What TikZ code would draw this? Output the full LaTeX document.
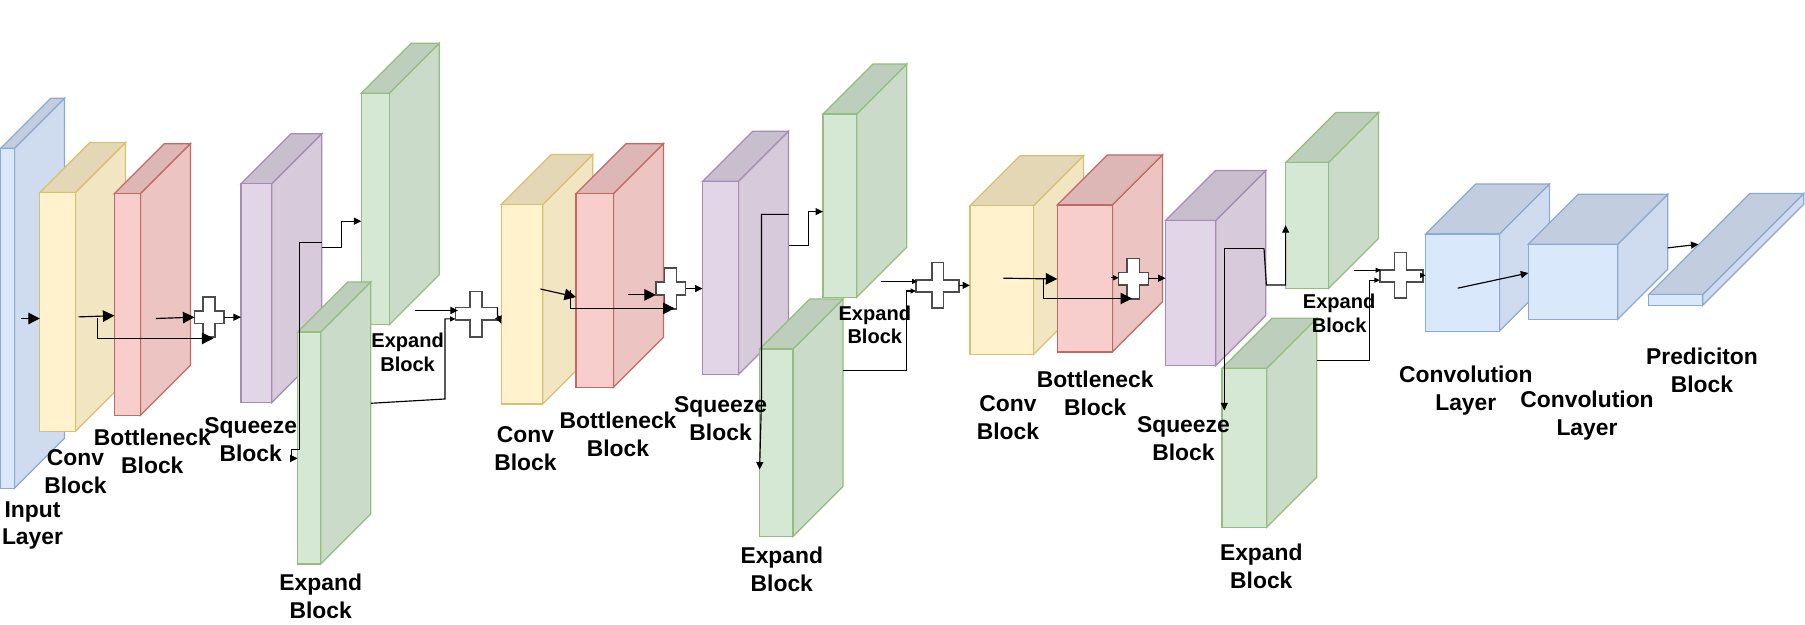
\documentclass[tikz,border=0pt]{standalone}
\usepackage{fontspec}
\setmainfont{Liberation Sans}
\usetikzlibrary{arrows.meta}
\definecolor{bluefill}{HTML}{DAE8FC}\definecolor{blueline}{HTML}{8EA8CF}
\definecolor{yellowfill}{HTML}{FFF2CC}\definecolor{yellowline}{HTML}{D9BF70}
\definecolor{redfill}{HTML}{F8CECC}\definecolor{redline}{HTML}{C06A66}
\definecolor{purplefill}{HTML}{E1D5E7}\definecolor{purpleline}{HTML}{A68BB3}
\definecolor{greenfill}{HTML}{D5E8D4}\definecolor{greenline}{HTML}{95BD7D}
\tikzset{
	cubeedge/.style={line width=0.35pt},
	plusline/.style={draw=black!70, fill=white, line width=0.45pt},
	bigarrow/.style={-{Triangle[length=1.15mm,width=1.15mm]}, line width=0.33pt},
	midarrow/.style={-{Triangle[length=0.75mm,width=0.7mm]}, line width=0.33pt},
	smallarrow/.style={-{Triangle[length=0.55mm,width=0.5mm]}, line width=0.33pt},
	blocklabel/.style={align=center, inner sep=0, font=\fontsize{6.5}{7.95}\selectfont\bfseries},
	smalllabel/.style={align=center, inner sep=0, font=\fontsize{5.7}{6.65}\selectfont\bfseries}
}
\def\cuboid[#1](#2)(#3:#4:#5:#6:#7){
	\draw[cubeedge, draw=#1line, fill=#1fill!95!black] (#5,#4) -- ({#5+#7},{#4-#7}) -- ({#5+#7},{#6-#7}) -- (#5,#6) -- cycle;
	\draw[cubeedge, draw=#1line, fill=#1fill!89!black] (#3,#4) -- ({#3+#7},{#4-#7}) -- ({#5+#7},{#4-#7}) -- (#5,#4) -- cycle;
	\node[cubeedge, draw=#1line, fill=#1fill, inner sep=0, outer sep=0, minimum width={(#5-#3)*0.01cm}, minimum height={(#6-#4)*0.01cm}] (#2) at ({(#3+#5)/2},{(#4+#6)/2}) {};
}
\def\plusnode(#1)(#2:#3:#4:#5)(#6:#7:#8:#9){
	\draw[plusline] (#6,#3) -- (#7,#3) -- (#7,#8) -- (#4,#8) -- (#4,#9) -- (#7,#9) -- (#7,#5) -- (#6,#5) -- (#6,#9) -- (#2,#9) -- (#2,#8) -- (#6,#8) -- cycle;
	\node[inner sep=0, outer sep=0, minimum width={(#4-#2)*0.01cm}, minimum height={(#5-#3)*0.01cm}] (#1) at ({(#2+#4)/2},{(#3+#5)/2}) {};
}

\begin{document}
\begin{tikzpicture}[x=0.01cm, y=-0.01cm]
	\useasboundingbox (0,0) rectangle (1805,625);
	%%%%% BLOCKS %%%%%
	
	\cuboid[blue](inputone)(0.8:148.3:14.5:488.2:50)
	\cuboid[yellow](convone)(39.8:192.5:75.4:431.3:50)
	\cuboid[red](bottleone)(114.4:193.7:140.4:415.3:50)
	\plusnode(plusone)(194.4:296.9:223.9:336.8)(202.8:215:310.9:323.6)
	\cuboid[purple](squeezeone)(241:183.7:271.7:402.6:50)
	\cuboid[green](expandonea)(361.3:93.3:389.2:324.8:50)
	\cuboid[green](expandoneb)(297.7:332:320.7:564:50)
	\plusnode(plustwo)(455.6:291.4:497.5:336.8)(470:482.2:307.7:320)
	
	\cuboid[yellow](convtwo)(501.3:204.5:542.7:404.1:50)
	\cuboid[red](bottletwo)(576:193.7:613.4:387.4:50)
	\plusnode(plusthree)(655.9:268.2:685.7:308.9)(664.3:676.5:282.2:294.9)
	\cuboid[purple](squeezetwo)(702.6:181.3:738.5:374.6:50)
	\cuboid[green](expandtwoa)(823:114:856.8:297.3:50)
	\cuboid[green](expandtwob)(759.6:349.1:792.9:536.5:50)
	\plusnode(plusfour)(916:262.7:959:308.1)(931.8:943.7:279.8:292.2)
	
	\cuboid[yellow](convthree)(970:205.7:1033.6:354.3:50)
	\cuboid[red](bottlethree)(1057.3:204.9:1112.4:351.9:50)
	\plusnode(plusfive)(1118.6:258.3:1148.4:298.9)(1127:1139.6:272.6:285)
	\cuboid[purple](squeezethree)(1165.6:220.4:1215.8:365.5:50)
	\cuboid[green](expandthreea)(1285.6:162.6:1328.5:288.6:50)
	\cuboid[green](expandthreeb)(1222:368.3:1266.7:527.3:50)
	\plusnode(plussix)(1379.8:252.7:1423:298.1)(1394.4:1406.4:269.8:281.8)
	
	\cuboid[blue](layerone)(1425.7:234:1499.4:331.2:50)
	\cuboid[blue](layertwo)(1528.3:244.3:1617.8:319.3:50)
	\cuboid[blue](predict)(1648.7:294.5:1702.7:305.3:101)
	
	%%%%% CONNECTORS %%%%%
	
	\coordinate (ina) at (21,318.5);
	\coordinate (cva) at (78.5,316.9);
	\coordinate (cvb) at (97.6,317.7);
	\coordinate (cvc) at (97.6,338.4);
	\coordinate (bna) at (155.8,318.5);
	\coordinate (sqa) at (321.7,247.9);
	\coordinate (sqb) at (341.4,221.2);
	\coordinate (sqc) at (321.7,242.7);
	\coordinate (sqd) at (299.3,449.2);
	\coordinate (sqe) at (291.2,458.4);
	\coordinate (exa) at (414.5,310.5);
	\coordinate (exb) at (370.8,403.3);
	\coordinate (exc) at (445,399);
	\coordinate (exd) at (445,318.9);
	\draw[bigarrow] (ina) -- (convone.west |- ina);
	\draw[bigarrow] (cva) -- (bottleone.west |- 0,315.7);
	\draw[bigarrow] (cvb) -- (cvc) -- (plusone.center |- cvc) -- (213.5,338.4);
	\draw[bigarrow] (bna) -- (plusone.west |- 0,317.2);
	\draw[midarrow] (plusone.east |- 0,317.2) -- (squeezeone.west |- 0,317.2);
	\draw[midarrow] (sqa) -| (sqb) -- (expandonea.west |- sqb);
	\draw[midarrow] (sqc) -| (sqd) -| (sqe) -- (expandoneb.west |- sqe);
	\draw[midarrow] (exa) -- (458,310.5);
	\draw[smallarrow] (exb) -- (exc) -- (exd) -- (plustwo.west |- exd);
	\draw[midarrow] (plustwo.east |- 0,307.7) -- (497.5,314.9) -- (convtwo.west |- 0,323.6);
	
	\coordinate (cwa) at (540.4,289);
	\coordinate (cwb) at (570.6,290.2);
	\coordinate (cwc) at (570.6,308.4);
	\coordinate (bwa) at (628,294.9);
	\coordinate (swa) at (788.5,245.9);
	\coordinate (swb) at (808.6,211.6);
	\coordinate (swc) at (788.5,214.4);
	\coordinate (swd) at (761.5,398.6);
	\coordinate (swe) at (759.6,469.5);
	\coordinate (ewa) at (881.3,281.4);
	\coordinate (ewb) at (842.9,370.3);
	\coordinate (ewc) at (906.9,291);
	\draw[bigarrow] (cwa) -- (bottletwo.west |- 0,297);
	\draw[bigarrow] (cwb) -- (cwc) -- (674.6,308.4);
	\draw[bigarrow] (bwa) -- (plusthree.west |- bwa);
	\draw[midarrow] (plusthree.east |- 0,288.6) -- (squeezetwo.west |- 0,288.6);
	\draw[midarrow] (swa) -| (swb) -- (expandtwoa.west |- swb);
	\draw[midarrow] (swc) -| (swd) -- (swe);
	\draw[smallarrow] (ewa) -- (917.6,281.4);
	\draw[smallarrow] (ewb) -| (ewc) -- (plusfour.west |- ewc);
	\draw[midarrow] (plusfour.east |- 0,285.4) -- (convthree.west |- 0,285.4);
	
	\coordinate (cxa) at (1003.4,278.2);
	\coordinate (cxb) at (1043.2,279);
	\coordinate (cxc) at (1043.2,298.5);
	\coordinate (bxa) at (1110.9,277.8);
	\coordinate (sxa) at (1264,248.3);
	\coordinate (sxb) at (1266.4,285);
	\coordinate (sxc) at (1224.3,410.5);
	\coordinate (exe) at (1353.5,270.2);
	\coordinate (exf) at (1316.5,360.3);
	\coordinate (exg) at (1369.8,280.2);
	\draw[bigarrow] (cxa) -- (bottlethree.west |- 0,279);
	\draw[bigarrow] (cxb) -- (cxc) -- (1132,298.5);
	\draw[smallarrow] (bxa) -- (plusfive.west |- bxa);
	\draw[midarrow] (plusfive.east |- 0,278.2) -- (squeezethree.west |- 0,278.2);
	\draw[midarrow] (sxa) -- (sxb) -- (expandthreea.west |- sxb) -- (expandthreea.west |- 0,225.2);
	\draw[midarrow] (sxa) -| (sxc);
	\draw[smallarrow] (exe) -- (1381,270.2);
	\draw[smallarrow] (exf) -| (exg) -- (plussix.west |- exg);
	\draw[smallarrow] (plussix.east |- 0,275.4) -- (layerone.west |- 0,275.4);
	
	\coordinate (lya) at (1457.7,288.2);
	\coordinate (lyb) at (1667.6,247.9);
	\draw[midarrow] (lya) -- (layertwo.west |- 0,273);
	\draw[midarrow] (lyb) -- (1698.5,244.3);
	
	%%%%% LABELS %%%%%
	
	\node[blocklabel] (inputlab) at (32.5,525.5) {Input\\Layer};
	\node[blocklabel] (convlabone) at (75.4,471.6) {Conv\\Block};
	\node[blocklabel] (bottlelabone) at (152.3,451.7) {Bottleneck\\Block};
	\node[blocklabel] (squeezelabone) at (250.7,439.7) {Squeeze\\Block};
	\node[smalllabel] (expandlabonea) at (407.6,352.5) {Expand\\Block};
	\node[blocklabel] (expandlaboneb) at (320.7,596.4) {Expand\\Block};
	
	\node[blocklabel] (convlabtwo) at (525.5,448.7) {Conv\\Block};
	\node[blocklabel] (bottlelabtwo) at (618,433.9) {Bottleneck\\Block};
	\node[blocklabel] (squeezelabtwo) at (720.6,419) {Squeeze\\Block};
	\node[smalllabel] (expandlabtwoa) at (874.8,324.7) {Expand\\Block};
	\node[blocklabel] (expandlabtwob) at (781.8,569.5) {Expand\\Block};
	
	\node[blocklabel] (convlabthree) at (1008,417.3) {Conv\\Block};
	\node[blocklabel] (bottlelabthree) at (1095.2,393.3) {Bottleneck\\Block};
	\node[blocklabel] (squeezelabthree) at (1183.4,438.5) {Squeeze\\Block};
	\node[smalllabel] (expandlabthreea) at (1339.1,313.2) {Expand\\Block};
	\node[blocklabel] (expandlabthreeb) at (1261.3,566.5) {Expand\\Block};
	
	\node[blocklabel] (layerlabone) at (1465.8,391) {Convolution\\Layer};
	\node[blocklabel] (layerlabtwo) at (1587,416) {Convolution\\Layer};
	\node[blocklabel] (predictlab) at (1702,370) {Prediciton\\Block};
\end{tikzpicture}
\end{document}
